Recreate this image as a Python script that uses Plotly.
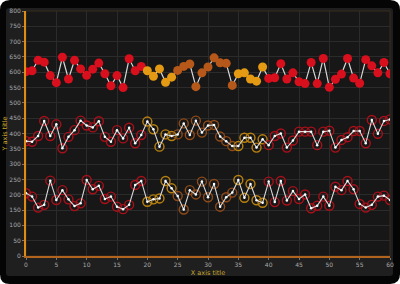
import plotly.graph_objects as go

x_vals = list(range(61))

top_vals = [602, 605, 639, 633, 589, 566, 649, 578, 639, 611, 590, 610, 630, 595, 556, 589, 550, 644, 605, 619,
            605, 587, 611, 567, 584, 606, 619, 627, 553, 598, 617, 647, 631, 629, 557, 595, 598, 578, 571, 617,
            580, 582, 628, 578, 598, 569, 563, 632, 563, 645, 551, 577, 594, 645, 581, 564, 641, 621, 598, 632, 595]

mid_vals = [375, 373, 392, 441, 392, 430, 352, 389, 411, 442, 426, 420, 440, 389, 373, 411, 384, 419, 368, 395,
            439, 414, 357, 397, 392, 397, 433, 395, 442, 403, 426, 428, 390, 375, 359, 359, 386, 386, 354, 381,
            362, 392, 400, 354, 377, 406, 406, 406, 362, 406, 409, 354, 379, 388, 408, 408, 368, 444, 399, 441, 446]

bot_vals = [205, 194, 158, 167, 246, 183, 215, 185, 163, 172, 248, 218, 229, 186, 194, 161, 153, 167, 232, 245,
            177, 185, 188, 245, 221, 196, 152, 215, 201, 243, 192, 235, 161, 192, 207, 248, 190, 235, 182, 174,
            243, 176, 245, 181, 212, 186, 201, 156, 164, 194, 164, 226, 215, 245, 218, 170, 158, 167, 194, 197, 183]

band_ranges = [(0, 19, "red"), (20, 24, "orange"), (25, 34, "brown"), (35, 39, "orange"), (40, 60, "red")]
band_colors = {"red": "#d80f1c", "orange": "#e49a12", "brown": "#b5581a"}
hollow_colors = {"red": "#a8101a", "orange": "#b8800f", "brown": "#8f4a18"}

x_ticks = list(range(0, 61, 5))
y_ticks = list(range(0, 801, 50))

W, H = 400, 284
ML, MR, MT, MB = 26, 10, 11, 28
PW, PH = W - ML - MR, H - MT - MB


def px_x(p):
    return (p - ML) / PW


def px_y(p):
    return (H - MB - p) / PH


def rounded_path(x0, y0, x1, y1, r):
    pts = [
        ("M", x0 + r, y0), ("L", x1 - r, y0), ("Q", x1, y0, x1, y0 + r), ("L", x1, y1 - r),
        ("Q", x1, y1, x1 - r, y1), ("L", x0 + r, y1), ("Q", x0, y1, x0, y1 - r), ("L", x0, y0 + r),
        ("Q", x0, y0, x0 + r, y0),
    ]
    out = []
    for p in pts:
        if p[0] == "Q":
            out.append("Q %.5f,%.5f %.5f,%.5f" % (px_x(p[1]), px_y(p[2]), px_x(p[3]), px_y(p[4])))
        else:
            out.append("%s %.5f,%.5f" % (p[0], px_x(p[1]), px_y(p[2])))
    return " ".join(out) + " Z"


def colors_for(palette):
    out = []
    for i in x_vals:
        for a, b, name in band_ranges:
            if a <= i <= b:
                out.append(palette[name])
    return out


cols = colors_for(band_colors)
hcols = colors_for(hollow_colors)

fig = go.Figure()

fig.add_trace(go.Scatter(x=x_vals, y=top_vals, mode="lines",
                         line=dict(color="#d8d8d8", width=1.2), hoverinfo="skip"))
fig.add_trace(go.Scatter(x=x_vals, y=top_vals, mode="markers",
                         marker=dict(size=9, color=cols, line=dict(width=0))))

for vals in (mid_vals, bot_vals):
    fig.add_trace(go.Scatter(x=x_vals, y=vals, mode="markers",
                             marker=dict(size=9, color=hcols, symbol="circle-open",
                                         line=dict(width=1.4))))
    fig.add_trace(go.Scatter(x=x_vals, y=vals, mode="lines+markers",
                             line=dict(color="#d8d8d8", width=1.1),
                             marker=dict(size=2.5, color="#ffffff")))

shapes = [
    dict(type="path", xref="paper", yref="paper", layer="below",
         path=rounded_path(0, 0, W, H, 10), fillcolor="#050505", line=dict(width=0)),
    dict(type="path", xref="paper", yref="paper", layer="below",
         path=rounded_path(6, 8, 393, 276, 3), fillcolor="#1f1f1f", line=dict(width=0)),
    dict(type="rect", xref="paper", yref="paper", layer="below",
         x0=0, x1=1, y0=0, y1=1, fillcolor="#171717", line=dict(width=1, color="#3a2c1c")),
]

fig.update_layout(
    width=W, height=H,
    margin=dict(l=ML, r=MR, t=MT, b=MB),
    paper_bgcolor="#ffffff",
    plot_bgcolor="rgba(0,0,0,0)",
    showlegend=False,
    font=dict(family="DejaVu Sans", size=6, color="#aaaaaa"),
    xaxis=dict(range=[0, 60], tickvals=x_ticks, showgrid=True, gridcolor="#2b2b2b", gridwidth=1,
               zeroline=False, showline=True, linecolor="#b0641e", linewidth=2, automargin=False,
               ticks="outside", ticklen=2, tickcolor="#777777",
               tickfont=dict(size=6, color="#aaaaaa"),
               title=dict(text="X axis title", font=dict(size=6.5, color="#c9a62a"), standoff=3)),
    yaxis=dict(range=[0, 800], tickvals=y_ticks, showgrid=True, gridcolor="#2b2b2b", gridwidth=1,
               zeroline=False, showline=True, linecolor="#e08c14", linewidth=2, automargin=False,
               ticks="outside", ticklen=2, tickcolor="#777777",
               tickfont=dict(size=6, color="#aaaaaa"),
               title=dict(text="Y axis title", font=dict(size=6.5, color="#c9a62a"), standoff=0)),
    shapes=shapes,
)

fig.write_html("out.html")
